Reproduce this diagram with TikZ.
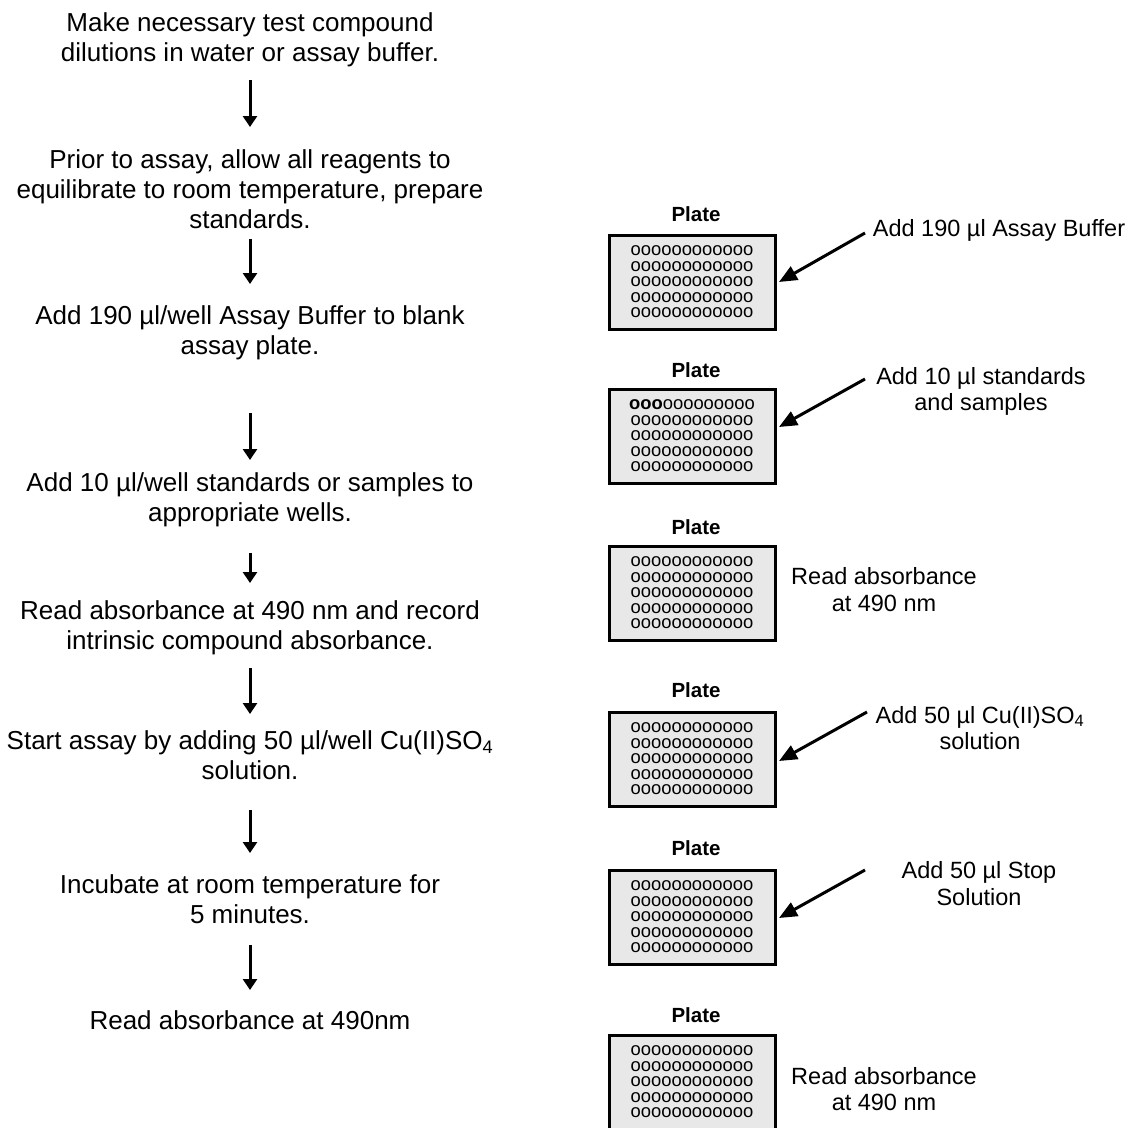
\documentclass[tikz,border=0pt]{standalone}
\usepackage{fontspec}
\setmainfont{Liberation Sans}
\usetikzlibrary{arrows.meta}
\definecolor{plategray}{HTML}{E8E8E8}
\newcommand\wellrow{oooooooooooo}
\newcommand\wellrows{\wellrow\\\wellrow\\\wellrow\\\wellrow\\\wellrow}
\begin{document}
\begin{tikzpicture}[x=1pt,y=-1pt,
  steptext/.style={align=center, font=\fontsize{26}{30}\selectfont, inner sep=0pt},
  sidetext/.style={align=center, font=\fontsize{23.5}{26.5}\selectfont, inner sep=0pt},
  platelabel/.style={font=\bfseries\fontsize{20.5}{24}\selectfont, inner sep=0pt},
  plate/.style={draw, line width=3pt, fill=plategray, minimum width=166pt, minimum height=94pt,
    inner sep=0pt, align=center, font=\fontsize{18.4}{15.5}\selectfont},
  flowarrow/.style={line width=3pt, -{Triangle[length=11pt,width=14pt]}},
  sidearrow/.style={line width=3pt, -{Triangle[length=18pt,width=15pt]}}
]
\useasboundingbox (0,0) rectangle (1135,1127);

% left column
\node[steptext] (s1) at (250,40) {Make necessary test compound\\dilutions in water or assay buffer.};
\node[steptext] (s2) at (250,189) {Prior to assay, allow all reagents to\\equilibrate to room temperature, prepare\\standards.};
\node[steptext] (s3) at (250,333) {Add 190 µl/well Assay Buffer to blank\\assay plate.};
\node[steptext] (s4) at (250,500) {Add 10 µl/well standards or samples to\\appropriate wells.};
\node[steptext] (s5) at (250,627.5) {Read absorbance at 490 nm and record\\intrinsic compound absorbance.};
\node[steptext] (s6) at (250,755) {Start assay by adding 50 µl/well Cu(II)SO\textsubscript{4}\\solution.};
\node[steptext] (s7) at (250,899) {Incubate at room temperature for\\5 minutes.};
\node[steptext] (s8) at (250,1020) {Read absorbance at 490nm};

\coordinate (a1s) at (250,80);  \coordinate (a1e) at (250,127);
\coordinate (a2s) at (250,239); \coordinate (a2e) at (250,284);
\coordinate (a3s) at (250,413); \coordinate (a3e) at (250,460);
\coordinate (a4s) at (250,553); \coordinate (a4e) at (250,583);
\coordinate (a5s) at (250,668); \coordinate (a5e) at (250,714);
\coordinate (a6s) at (250,810); \coordinate (a6e) at (250,853);
\coordinate (a7s) at (250,945); \coordinate (a7e) at (250,990);
\foreach \i in {1,...,7} \draw[flowarrow] (a\i s) -- (a\i e);

% plates
\node[platelabel] (l1) at (696,214) {Plate};
\node[plate] (p1) at (692,282) {\wellrows};
\node[platelabel] (l2) at (696,370) {Plate};
\node[plate] (p2) at (692,436) {\textbf{ooo}ooooooooo\\\wellrow\\\wellrow\\\wellrow\\\wellrow};
\node[platelabel] (l3) at (696,527) {Plate};
\node[plate] (p3) at (692,593) {\wellrows};
\node[platelabel] (l4) at (696,690) {Plate};
\node[plate] (p4) at (692,759) {\wellrows};
\node[platelabel] (l5) at (696,848) {Plate};
\node[plate] (p5) at (692,917) {\wellrows};
\node[platelabel] (l6) at (696,1015) {Plate};
\node[plate] (p6) at (692,1082) {\wellrows};

% side labels
\node[sidetext] (r1) at (999,230) {Add 190 µl Assay Buffer};
\node[sidetext] (r2) at (981,391.5) {Add 10 µl standards\\and samples};
\node[sidetext] (r3) at (884,589.5) {Read absorbance\\at 490 nm};
\node[sidetext] (r4) at (980,728) {Add 50 µl Cu(II)SO\textsubscript{4}\\solution};
\node[sidetext] (r5) at (979,883.5) {Add 50 µl Stop\\Solution};
\node[sidetext] (r6) at (884,1089) {Read absorbance\\at 490 nm};

\coordinate (b1s) at (865,233); \coordinate (b1e) at (779,282);
\coordinate (b2s) at (865,379); \coordinate (b2e) at (779,427);
\coordinate (b4s) at (867,712); \coordinate (b4e) at (779,761);
\coordinate (b5s) at (865,870); \coordinate (b5e) at (779,918);
\foreach \i in {1,2,4,5} \draw[sidearrow] (b\i s) -- (b\i e);
\end{tikzpicture}
\end{document}
